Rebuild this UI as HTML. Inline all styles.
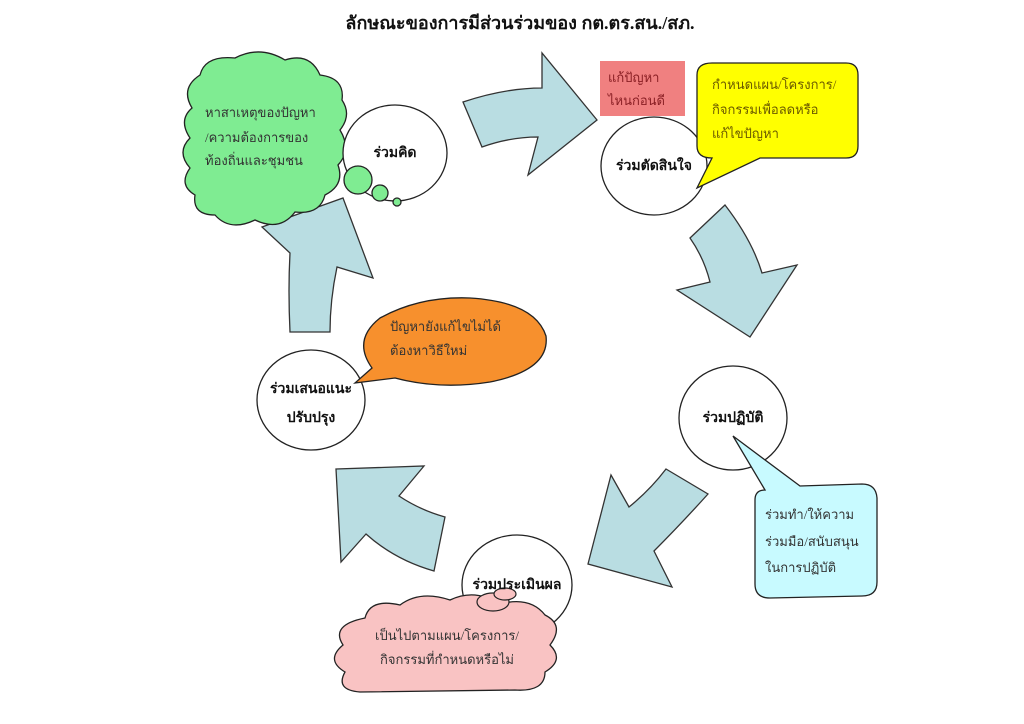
<!DOCTYPE html>
<html><head><meta charset="utf-8"><style>
html,body{margin:0;padding:0;background:#fff;}
svg{display:block;}
text{font-family:"Liberation Serif","DejaVu Serif",serif;}
</style></head><body>
<svg width="1024" height="724" viewBox="0 0 1024 724" xmlns="http://www.w3.org/2000/svg">
<rect width="1024" height="724" fill="#fff"/>
<text x="520" y="29" font-size="18" font-weight="bold" text-anchor="middle" fill="#111">ลักษณะของการมีส่วนร่วมของ กต.ตร.สน./สภ.</text>

<g fill="#b9dde2" stroke="#333" stroke-width="1.3" stroke-linejoin="miter">
<!-- arrow top -->
<path d="M463,102 Q505,88 542,88 L542,53 L597,120 L528,175 L538,137 Q510,137 482,147 Z"/>
<!-- arrow right down -->
<path d="M690,238 L725,205 Q752,240 762,273 L797,265 L750,337 L677,290 L710,282 Q704,258 690,238 Z"/>
<!-- arrow lower right -->
<path d="M666,469 L708,494 Q680,525 654,551 L672,587 L588,564 L611,475 L629,507 Q650,490 666,469 Z"/>
<!-- arrow lower left -->
<path d="M336,469 L424,466 L399,496 Q420,510 445,517 L434,571 Q395,560 366,534 L341,562 Z"/>
<!-- arrow left up -->
<path d="M343,198 L373,278 L337,267 Q330,300 330,332 L290,332 Q288,290 290,253 L262,227 Z"/>
</g>

<!-- green cloud -->
<path d="M200,75 Q205,55 235,58 Q260,45 285,60 Q310,52 320,75 Q345,78 342,100 Q352,115 340,130 Q352,150 338,165 Q345,185 325,195 Q320,215 295,212 Q280,232 255,220 Q230,232 215,215 Q192,215 195,195 Q178,185 190,168 Q176,152 190,138 Q178,120 192,108 Q180,88 200,75 Z" fill="#7fec92" stroke="#222" stroke-width="1.3"/>
<text font-size="13" fill="#333"><tspan x="205" y="117">หาสาเหตุของปัญหา</tspan><tspan x="205" y="142">/ความต้องการของ</tspan><tspan x="205" y="165">ท้องถิ่นและชุมชน</tspan></text>

<g fill="#fff" stroke="#222" stroke-width="1.3">
<ellipse cx="395" cy="153" rx="52" ry="48"/>
<ellipse cx="654" cy="166" rx="53" ry="49"/>
<ellipse cx="733" cy="418" rx="54" ry="52"/>
<ellipse cx="517" cy="585" rx="55" ry="50"/>
<ellipse cx="311" cy="400" rx="54" ry="50"/>
</g>
<g fill="#7fec92" stroke="#222" stroke-width="1.3">
<circle cx="358" cy="180" r="14"/><circle cx="380" cy="193" r="8"/><circle cx="397" cy="202" r="4"/>
</g>

<!-- pink box -->
<rect x="600" y="61" width="85" height="55" fill="#f08080"/>
<text font-size="13" fill="#8a1f24"><tspan x="608" y="82">แก้ปัญหา</tspan><tspan x="608" y="105">ไหนก่อนดี</tspan></text>

<!-- yellow callout -->
<path d="M712,63 L846,63 Q858,63 858,75 L858,146 Q858,158 846,158 L760,158 L697,188 L712,158 Q697,158 697,146 L697,75 Q697,63 712,63 Z" fill="#ffff00" stroke="#222" stroke-width="1.3"/>
<text font-size="13" fill="#6b5a00"><tspan x="712" y="89">กำหนดแผน/โครงการ/</tspan><tspan x="712" y="114">กิจกรรมเพื่อลดหรือ</tspan><tspan x="712" y="138">แก้ไขปัญหา</tspan></text>

<!-- orange -->
<path d="M372,368 Q352,340 380,318 Q420,296 470,298 Q535,302 546,336 Q550,370 490,382 Q440,390 395,378 L355,383 Z" fill="#f7902d" stroke="#222" stroke-width="1.3"/>
<text font-size="13" fill="#333"><tspan x="390" y="331">ปัญหายังแก้ไขไม่ได้</tspan><tspan x="390" y="355">ต้องหาวิธีใหม่</tspan></text>

<!-- cyan callout -->
<path d="M733,436 L800,486 L862,484 Q876,484 877,498 L877,582 Q877,596 862,596 L770,598 Q755,598 755,584 L755,500 Q755,490 765,490 Z" fill="#c8faff" stroke="#222" stroke-width="1.3"/>
<text font-size="13" fill="#333"><tspan x="765" y="519">ร่วมทำ/ให้ความ</tspan><tspan x="765" y="546">ร่วมมือ/สนับสนุน</tspan><tspan x="765" y="572">ในการปฏิบัติ</tspan></text>

<!-- pink cloud -->
<path d="M365,618 Q370,598 400,605 Q420,590 450,600 Q475,588 500,604 Q530,596 545,615 Q565,625 550,645 Q565,660 545,672 Q545,692 515,690 L360,692 Q335,690 345,672 Q325,660 343,645 Q330,625 365,618 Z" fill="#f9c3c3" stroke="#222" stroke-width="1.3"/>
<ellipse cx="493" cy="602" rx="16" ry="9" fill="#f9c3c3" stroke="#222" stroke-width="1.2"/>
<ellipse cx="505" cy="594" rx="11" ry="6" fill="#f9c3c3" stroke="#222" stroke-width="1.2"/>
<text font-size="13" fill="#333" text-anchor="middle"><tspan x="447" y="640">เป็นไปตามแผน/โครงการ/</tspan><tspan x="447" y="664">กิจกรรมที่กำหนดหรือไม่</tspan></text>

<g font-size="14" font-weight="bold" fill="#111" text-anchor="middle">
<text x="395" y="157">ร่วมคิด</text>
<text x="654" y="170">ร่วมตัดสินใจ</text>
<text x="733" y="422">ร่วมปฏิบัติ</text>
<text x="517" y="589">ร่วมประเมินผล</text>
<text x="311" y="393">ร่วมเสนอแนะ</text>
<text x="311" y="422">ปรับปรุง</text>
</g>
</svg>
</body></html>
